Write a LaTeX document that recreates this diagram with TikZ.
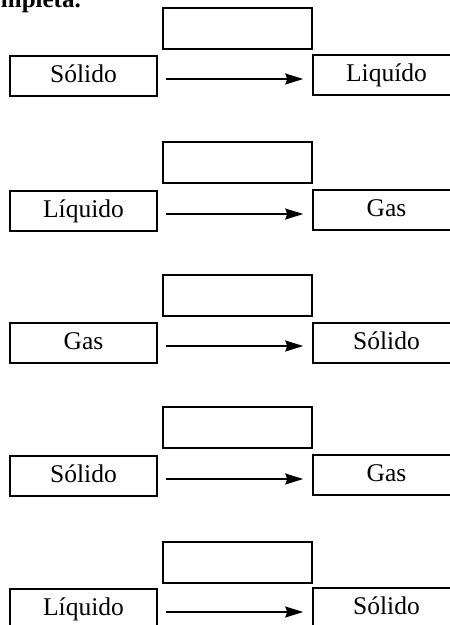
\documentclass[tikz,border=0pt]{standalone}
\usepackage{fontspec}
\setmainfont{Liberation Serif}
\usetikzlibrary{arrows.meta}
\begin{document}
\begin{tikzpicture}[x=1pt,y=-1pt,
  statebox/.style={draw, line width=1.5pt, rectangle, inner sep=0pt,
    minimum width=147pt, minimum height=40pt,
    text height=26pt, text depth=14pt,
    font=\fontsize{25.5}{30}\selectfont},
  blankbox/.style={draw, line width=1.5pt, rectangle, inner sep=0pt,
    minimum width=149pt, minimum height=41pt},
  flow/.style={line width=1.5pt,
    -{Stealth[length=18pt,width=11pt,inset=2pt]},
    shorten <=8pt, shorten >=9pt}]
\useasboundingbox (0,0) rectangle (450,625);
\clip (0,0) rectangle (450,625);

% heading, partly outside the frame
\node[anchor=base east, inner sep=0pt, font=\fontsize{25}{29}\selectfont\bfseries]
  (head) at (81,7) {completa.};

% one row per change of state: blank box, start state, arrow, end state
\foreach \t/\l/\r/\a/\b [count=\i] in {
    8/56/55/Sólido/Liquído,
    142/191/190/Líquido/Gas,
    275/323/323/Gas/Sólido,
    407/456/455/Sólido/Gas,
    542/589/588/Líquido/Sólido}{
  \node[blankbox] (top\i) at (237.5,\t+20.5) {};
  \node[statebox] (src\i) at (83.5,\l+20) {\a};
  \node[statebox] (dst\i) at (386.5,\r+20) {\b};
  \draw[flow] ([yshift=-3pt]src\i.east) -- ([yshift=-3pt]src\i.east -| dst\i.west);
}
\end{tikzpicture}
\end{document}
